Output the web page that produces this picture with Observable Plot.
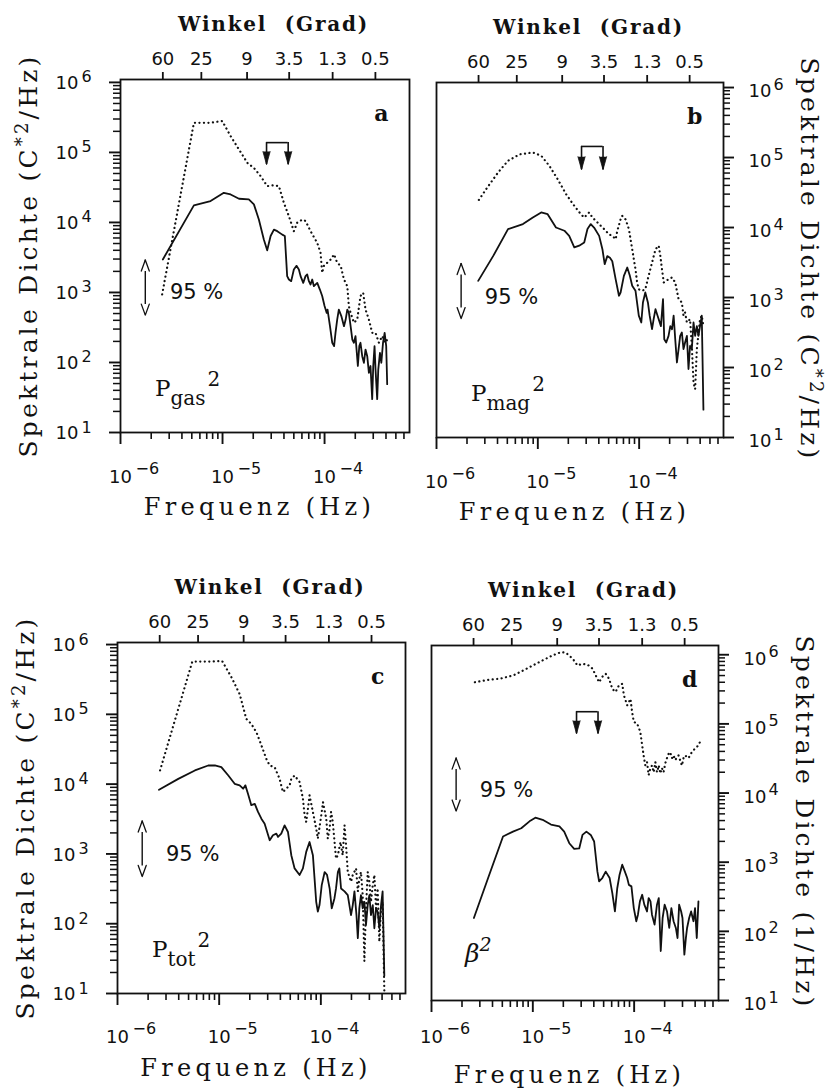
<!DOCTYPE html>
<html><head><meta charset="utf-8">
<script src="https://cdn.jsdelivr.net/npm/d3@7"></script>
<script src="https://cdn.jsdelivr.net/npm/@observablehq/plot@0.6"></script>
<style>
body{margin:0;background:#fff;}
#wrap{position:relative;width:832px;height:1088px;background:#fff;overflow:hidden}
#wrap > svg{position:absolute}
</style></head><body><div id="wrap"></div>
<script>
// ---------- tick values and labels ----------
const angleTickFreq = [2.6e-6, 6.2e-6, 1.74e-5, 4.5e-5, 1.2e-4, 3.15e-4]; // Hz
const angleTickLabels = ["60", "25", "9", "3.5", "1.3", "0.5"];            // Grad
const yTickValues = [1e1, 1e2, 1e3, 1e4, 1e5, 1e6];
const yTickExp = ["1", "2", "3", "4", "5", "6"];
const xTickValues = [1e-6, 1e-5, 1e-4];
const xTickExp = ["\u22126", "\u22125", "\u22124"];

// ---------- spectra: [frequency (µHz), spectral density] ----------
const aDotted = [[2.56,940],[5.24,2.65e5],[7.63,2.65e5],[9.93,2.81e5],[12.0,1.71e5],[14.5,1.10e5],[17.5,7.1e4],[20.3,6.0e4],[23.6,4.6e4],[27.4,3.3e4],[31.9,3.4e4],[35.7,3.3e4],[39.9,1.91e4],[44.7,1.23e4],[50.0,7.5e3],[53.9,9.9e3],[60.4,1.10e4],[65.1,1.05e4],[72.9,7.5e3],[84.8,5.1e3],[91.3,3.7e3],[94.8,1.91e3],[98.5,2.4e3],[106,2.65e3],[115,2.96e3],[124,3.5e3],[133,2.65e3],[144,2.4e3],[155,1.53e3],[167,1.23e3],[173,640],[180,510],[194,370],[209,410],[225,890],[239,990],[252,570],[272,410],[293,265],[316,265],[341,191],[367,238],[396,191],[411,213]];
const aSolid = [[2.60,2.96e3],[5.24,1.75e4],[7.63,2.02e4],[10.3,2.65e4],[12.0,2.51e4],[14.5,2.18e4],[18.1,2.13e4],[20.3,1.81e4],[22.7,1.10e4],[25.4,5.7e3],[27.4,4.0e3],[29.6,6.4e3],[31.9,7.9e3],[34.4,7.5e3],[38.5,6.7e3],[40.8,6.4e3],[43.0,1.71e3],[44.7,1.53e3],[47.1,1.45e3],[50.0,2.13e3],[53.1,2.4e3],[56.0,2.13e3],[58.2,1.71e3],[61.8,1.37e3],[65.1,1.71e3],[67.6,1.81e3],[70.2,1.45e3],[72.9,1.30e3],[75.7,1.53e3],[78.6,1.23e3],[84.8,1.37e3],[90.0,1.10e3],[94.8,890],[100,640],[105,510],[107,570],[113,330],[119,191],[124,171],[128,265],[133,410],[138,570],[146,460],[155,330],[161,410],[167,570],[173,510],[180,330],[187,213],[194,191],[201,238],[212,89],[219,171],[225,191],[234,123],[243,99],[252,153],[262,123],[272,71],[282,89],[293,30],[300,89],[309,171],[316,79],[328,30],[336,79],[349,137],[360,99],[374,191],[388,265],[402,171],[411,49]];

const bDotted = [[2.62,2.48e4],[3.24,3.9e4],[4.05,6.1e4],[5.08,9.0e4],[6.61,1.11e5],[8.93,1.18e5],[10.8,1.06e5],[13.0,7.6e4],[15.7,4.9e4],[19.0,3.0e4],[22.9,2.04e4],[26.6,1.55e4],[28.7,1.39e4],[32.1,1.64e4],[34.6,1.39e4],[38.8,1.18e4],[45.1,9.5e3],[50.4,8.0e3],[54.3,7.6e3],[58.6,6.8e3],[60.9,9.0e3],[65.6,1.31e4],[68.1,1.47e4],[73.4,1.31e4],[79.2,9.5e3],[85.4,4.9e3],[92.0,2.54e3],[95.5,1.64e3],[99.2,1.31e3],[107,1.25e3],[115,1.31e3],[124,2.04e3],[134,3.16e3],[145,4.9e3],[156,5.5e3],[162,3.9e3],[168,2.54e3],[175,1.64e3],[185,1.73e3],[195,1.83e3],[211,1.93e3],[227,1.64e3],[245,950],[264,850],[274,550],[284,610],[296,440],[318,490],[331,204],[344,61],[357,49],[371,183],[399,490],[415,550],[431,390]];
const bSolid = [[2.58,1.73e3],[3.62,3.9e3],[5.08,9.5e3],[7.13,1.12e4],[8.93,1.39e4],[10.8,1.64e4],[12.5,1.55e4],[15.1,1.00e4],[18.3,9.0e3],[20.4,7.6e3],[22.9,5.2e3],[25.6,5.5e3],[28.7,6.1e3],[30.9,9.5e3],[33.3,1.12e4],[35.9,1.00e4],[40.3,7.6e3],[43.4,4.9e3],[45.7,3.0e3],[48.5,3.9e3],[51.5,3.7e3],[54.3,3.3e3],[58.6,1.83e3],[63.2,1.06e3],[65.6,1.18e3],[70.7,2.04e3],[76.3,2.68e3],[81.0,2.04e3],[85.4,1.47e3],[92.0,1.25e3],[99.2,550],[105,440],[109,850],[115,1.18e3],[122,850],[127,550],[134,353],[139,490],[145,680],[152,550],[164,390],[172,950],[177,254],[185,228],[195,283],[203,390],[211,352],[219,550],[227,254],[236,118],[245,183],[254,283],[264,316],[274,183],[284,228],[296,283],[307,95],[318,204],[331,183],[344,440],[357,283],[371,390],[385,283],[399,390],[415,550],[431,25]];

const cDotted = [[2.62,1.57e4],[5.44,5.7e5],[7.80,5.7e5],[10.7,5.8e5],[13.2,3.4e5],[15.9,1.95e5],[18.5,8.6e4],[20.7,7.3e4],[23.3,5.5e4],[26.0,3.6e4],[29.1,2.30e4],[31.4,1.85e4],[35.1,1.75e4],[39.3,1.19e4],[42.4,7.7e3],[45.7,8.6e3],[49.3,9.6e3],[51.2,1.19e4],[55.2,1.33e4],[61.8,1.07e4],[66.6,6.2e3],[69.2,3.6e3],[71.8,2.87e3],[74.6,4.4e3],[77.4,6.9e3],[83.5,4.0e3],[90.0,2.30e3],[93.4,1.66e3],[101,3.6e3],[105,5.5e3],[113,3.2e3],[117,1.66e3],[122,2.30e3],[126,4.0e3],[131,2.87e3],[141,860],[147,960],[156,1.48e3],[164,960],[171,2.57e3],[177,1.33e3],[184,550],[198,400],[206,500],[222,620],[231,290],[239,440],[248,550],[258,257],[268,29],[278,166],[289,550],[300,400],[311,206],[324,356],[336,500],[349,166],[362,320],[376,55],[391,166],[405,206],[421,10.7]];
const cSolid = [[2.56,8.3e3],[3.96,1.19e4],[5.77,1.57e4],[7.80,1.85e4],[9.07,1.85e4],[10.5,1.75e4],[12.3,1.33e4],[14.2,1.01e4],[15.9,9.6e3],[17.2,8.6e3],[18.1,9.6e3],[19.2,7.3e3],[20.7,5.0e3],[22.4,5.2e3],[24.1,4.0e3],[26.0,3.2e3],[28.0,2.71e3],[31.4,1.57e3],[33.8,1.85e3],[36.5,1.95e3],[37.9,1.75e3],[40.8,1.95e3],[44.0,2.57e3],[47.5,2.06e3],[51.2,960],[55.2,620],[61.8,500],[66.6,620],[71.8,1.07e3],[77.4,1.48e3],[83.5,960],[90.0,206],[93.4,149],[97.0,185],[102,357],[109,550],[115,500],[122,320],[128,166],[136,230],[141,320],[147,550],[152,620],[158,320],[171,290],[184,257],[198,133],[206,185],[214,290],[224,133],[231,62],[239,166],[248,257],[258,166],[268,206],[278,96],[289,185],[300,257],[311,133],[324,185],[336,86],[349,166],[362,149],[376,86],[391,185],[405,290],[421,18]];

const dDotted = [[2.68,4.0e5],[3.49,4.3e5],[4.71,4.5e5],[6.37,5.0e5],[7.98,5.9e5],[10.0,7.0e5],[12.5,8.3e5],[15.7,9.8e5],[19.0,1.09e6],[21.2,1.07e6],[24.7,8.8e5],[27.6,7.0e5],[30.9,7.4e5],[34.6,7.2e5],[38.8,6.3e5],[41.8,5.0e5],[45.1,4.0e5],[48.5,4.8e5],[52.4,5.3e5],[56.5,4.5e5],[60.9,3.2e5],[65.6,2.9e5],[70.7,3.6e5],[76.3,3.8e5],[79.2,2.6e5],[85.4,1.86e5],[92.0,2.3e5],[95.5,1.49e5],[99.2,1.07e5],[107,1.01e5],[115,7.7e4],[120,4.9e4],[124,3.5e4],[129,2.5e4],[134,2.8e4],[139,1.82e4],[145,2.3e4],[150,2.5e4],[156,2.0e4],[162,2.8e4],[168,2.0e4],[175,2.5e4],[181,1.92e4],[188,2.3e4],[195,2.0e4],[203,2.7e4],[211,3.2e4],[219,3.7e4],[227,3.9e4],[236,3.2e4],[245,3.5e4],[254,3.0e4],[274,3.5e4],[284,3.0e4],[296,2.5e4],[307,3.2e4],[318,3.5e4],[344,3.2e4],[371,3.9e4],[399,4.4e4],[431,4.9e4],[447,5.5e4]];
const dSolid = [[2.62,156],[3.62,590],[5.08,2.35e3],[6.37,2.77e3],[7.69,3.1e3],[9.27,3.9e3],[10.6,4.4e3],[12.5,4.1e3],[15.1,3.5e3],[18.3,3.3e3],[20.4,2.77e3],[22.9,1.88e3],[25.6,1.56e3],[28.7,1.58e3],[30.9,2.48e3],[33.8,2.77e3],[37.3,2.48e3],[40.3,1.99e3],[43.4,730],[45.1,530],[48.5,590],[52.4,730],[57.3,590],[60.9,357],[64.6,194],[68.1,420],[71.8,660],[76.3,920],[81.0,730],[85.4,590],[88.7,470],[94,447],[99.2,217],[105,140],[109,174],[114,271],[120,338],[126,243],[134,194],[139,303],[145,271],[150,174],[159,125],[168,243],[175,303],[183,52],[191,156],[200,243],[211,194],[222,112],[233,217],[245,140],[258,112],[268,80],[278,243],[291,194],[300,156],[313,46],[324,80],[333,112],[349,156],[365,194],[385,140],[399,217],[415,80],[431,271]];

// ---------- annotations ----------
const bracketFreq = [2.7e-5, 4.4e-5];           // Hz, two arrows
const bracketTop = [1.38e5, 1.44e5, null, 1.5e5];
const bracketTip = [6.7e4, 6.7e4, null, 7.2e4];
const conf95Freq = 1.75e-6;
const conf95Top = [2.9e3, 3.06e3, 2.96e3, 3.2e4];
const conf95Bottom = [475, 500, 475, 5.5e3];
const label95Freq = [3.05e-6, 3.0e-6, 3.0e-6, 3.0e-6];
const label95Dens = [1.0e3, 1.0e3, 980, 1.1e4];
const panelLetters = ["a", "b", "c", "d"];
const quantityBase = ["P", "P", "P", "\u03b2"];
const quantitySub = ["gas", "mag", "tot", ""];
const yLabelUnits = ["C*2/Hz", "C*2/Hz", "C*2/Hz", "1/Hz"];

// ---------- layout ----------
const SERIF = "'DejaVu Serif', serif";
const SANS = "'DejaVu Sans', sans-serif";
const INK = "#111";
const panels = [
  {left: 0,   top: 0,   w: 416, h: 545, m: {l: 120, t: 79,  r: 7,   b: 113}, side: "left",  ymax: 1.10e6, solid: aSolid, dotted: aDotted, xdy: 50, xedy: 41},
  {left: 416, top: 0,   w: 416, h: 545, m: {l: 20,  t: 82,  r: 109, b: 108}, side: "right", ymax: 1.18e6, solid: bSolid, dotted: bDotted, xdy: 50, xedy: 41},
  {left: 0,   top: 545, w: 416, h: 543, m: {l: 117, t: 97,  r: 11,  b: 95},  side: "left",  ymax: 1.07e6, solid: cSolid, dotted: cDotted, xdy: 49, xedy: 40},
  {left: 416, top: 545, w: 416, h: 543, m: {l: 15,  t: 100, r: 114, b: 88},  side: "right", ymax: 1.36e6, solid: dSolid, dotted: dDotted, xdy: 42, xedy: 33}
];

const xDomain = [1e-6, 6.8e-4];
const xMinor = [];
for (const e of [-6, -5, -4]) for (let k = 2; k <= 9; k++) { const v = k * Math.pow(10, e); if (v < xDomain[1]) xMinor.push(v); }
const yMinor = [];
for (const e of [1, 2, 3, 4, 5]) for (let k = 2; k <= 9; k++) yMinor.push(k * Math.pow(10, e));

function rich(svg, x, y, rotate, parts, o) {
  const t = d3.select(svg).append("text")
    .attr("transform", `translate(${x},${y}) rotate(${rotate})`)
    .attr("text-anchor", o.anchor || "middle")
    .attr("font-family", o.family || SERIF)
    .attr("font-size", o.size)
    .attr("font-weight", o.weight || "normal")
    .attr("font-style", o.style || "normal")
    .attr("letter-spacing", o.ls || 0)
    .attr("fill", INK);
  for (const p of parts) {
    const s = t.append("tspan").text(p.t);
    if (p.dy) s.attr("dy", p.dy);
    if (p.dx) s.attr("dx", p.dx);
    if (p.size) s.attr("font-size", p.size);
  }
}

const wrap = document.getElementById("wrap");
panels.forEach((p, i) => {
  const solid = p.solid.map(([f, v]) => ({f: f * 1e-6, v}));
  const dotted = p.dotted.map(([f, v]) => ({f: f * 1e-6, v}));
  const right = p.side === "right";
  const ymin = 10, ymax = p.ymax;
  const yEdge = right ? xDomain[1] : xDomain[0];
  const yRows = yTickValues.map((v, j) => ({v, e: yTickExp[j]}));
  const xRows = xTickValues.map((f, j) => ({f, e: xTickExp[j]}));
  const angleRows = angleTickFreq.map((f, j) => ({f, label: angleTickLabels[j]}));
  const yTickOpts = (len, w) => right
    ? {y: d => d, x1: yEdge, x2: yEdge, insetRight: -len, stroke: INK, strokeWidth: w}
    : {y: d => d, x1: yEdge, x2: yEdge, insetLeft: -len, stroke: INK, strokeWidth: w};

  const marks = [
    // y ticks (outside), bottom ticks, top angle ticks
    Plot.ruleY(yMinor, yTickOpts(7, 1.5)),
    Plot.ruleY(yTickValues, yTickOpts(11, 1.9)),
    Plot.ruleX(xMinor, {x: d => d, y1: ymin, y2: ymin, insetBottom: -7, stroke: INK, strokeWidth: 1.6}),
    Plot.ruleX(xTickValues, {x: d => d, y1: ymin, y2: ymin, insetBottom: -12, stroke: INK, strokeWidth: 1.9}),
    Plot.ruleX(angleTickFreq, {x: d => d, y1: ymax, y2: ymax, insetTop: -7, stroke: INK, strokeWidth: 1.8}),
    Plot.frame({stroke: INK, strokeWidth: 1.8}),
    // angle labels on top
    Plot.text(angleRows, {x: "f", frameAnchor: "top", text: "label", textAnchor: "middle", lineAnchor: "bottom", dy: -15, fontSize: 18, fill: INK}),
    // y tick labels 10^k
    Plot.text(yRows, {y: "v", frameAnchor: p.side, text: () => "10", textAnchor: right ? "start" : "end", lineAnchor: "middle", dx: right ? 25 : -42, dy: right ? 4 : 1, fontSize: 18, fill: INK}),
    Plot.text(yRows, {y: "v", frameAnchor: p.side, text: "e", textAnchor: "start", lineAnchor: "bottom", dx: right ? 50 : -39, dy: right ? 2 : 0, fontSize: 16, fill: INK}),
    // x tick labels 10^k
    Plot.text(xRows, {x: "f", frameAnchor: "bottom", text: () => "10", textAnchor: "middle", lineAnchor: "bottom", dy: p.xdy, fontSize: 18, fill: INK}),
    Plot.text(xRows, {x: "f", frameAnchor: "bottom", text: "e", textAnchor: "start", lineAnchor: "bottom", dx: 15, dy: p.xedy, fontSize: 16, fill: INK}),
    // panel letter
    Plot.text([panelLetters[i]], {frameAnchor: "top-right", text: d => d, textAnchor: "end", lineAnchor: "bottom", dx: -21, dy: 41, fontSize: 22, fontWeight: "bold", fontFamily: SERIF, fill: INK}),
    // 95 % confidence arrow
    Plot.ruleX([conf95Freq], {x: d => d, y1: conf95Bottom[i], y2: conf95Top[i], stroke: INK, strokeWidth: 1.4}),
    Plot.vector([conf95Freq], {x: d => d, y: conf95Top[i], length: 11, rotate: 0, anchor: "end", shape: "spike", r: 4, fill: "white", stroke: INK, strokeWidth: 1.3}),
    Plot.vector([conf95Freq], {x: d => d, y: conf95Bottom[i], length: 11, rotate: 180, anchor: "end", shape: "spike", r: 4, fill: "white", stroke: INK, strokeWidth: 1.3}),
    Plot.text(["95 %"], {x: label95Freq[i], y: label95Dens[i], text: d => d, textAnchor: "start", lineAnchor: "middle", fontSize: 21, fontFamily: SANS, fill: INK}),
    // spectra
    Plot.line(dotted, {x: "f", y: "v", stroke: INK, strokeWidth: 2.2, strokeDasharray: "0.1 4.4", strokeLinecap: "round", strokeLinejoin: "round"}),
    Plot.line(solid, {x: "f", y: "v", stroke: INK, strokeWidth: 1.8, strokeLinejoin: "round"})
  ];
  if (bracketTop[i] != null) {
    marks.push(
      Plot.ruleX(bracketFreq, {x: d => d, y1: bracketTip[i], y2: bracketTop[i], stroke: INK, strokeWidth: 1.6}),
      Plot.ruleY([bracketTop[i]], {y: d => d, x1: bracketFreq[0], x2: bracketFreq[1], stroke: INK, strokeWidth: 1.6}),
      Plot.vector(bracketFreq, {x: d => d, y: bracketTip[i], length: 13, rotate: 180, anchor: "end", shape: "spike", r: 3.6, fill: INK, stroke: INK, strokeWidth: 0.8})
    );
  }

  const svg = Plot.plot({
    width: p.w, height: p.h,
    marginLeft: p.m.l, marginRight: p.m.r, marginTop: p.m.t, marginBottom: p.m.b,
    x: {type: "log", domain: xDomain, axis: null},
    y: {type: "log", domain: [ymin, ymax], axis: null},
    style: {fontFamily: SANS, fontSize: "18px", color: INK, background: "white"},
    marks
  });
  svg.style.left = p.left + "px";
  svg.style.top = p.top + "px";
  wrap.appendChild(svg);

  const L = p.m.l, T = p.m.t, R = p.w - p.m.r, B = p.h - p.m.b;
  const cx = (L + R) / 2, cy = (T + B) / 2;
  // top axis title
  rich(svg, cx + 9, T - 48, 0, [{t: "Winkel  (Grad)"}], {size: 20, weight: "bold", ls: 1.8});
  // bottom axis title
  rich(svg, cx - 5, B + 83, 0, [{t: "Frequenz (Hz)"}], {size: 24, ls: 4.3});
  // y axis title
  const unit = yLabelUnits[i];
  const yParts = unit.startsWith("C*2")
    ? [{t: "Spektrale Dichte (C"}, {t: "*2", dy: -9, size: 18}, {t: "/Hz)", dy: 9}]
    : [{t: "Spektrale Dichte (" + unit + ")"}];
  if (right) rich(svg, R + 78, cy, 90, yParts, {size: 25, ls: 3.2});
  else rich(svg, L - 83, cy, -90, yParts, {size: 25, ls: 3.2});
  // quantity label
  if (quantitySub[i]) {
    rich(svg, L + 35, B - 36, 0, [{t: quantityBase[i], size: 23}, {t: quantitySub[i], dy: 9, size: 20}, {t: "2", dy: -19, dx: 2, size: 20}], {anchor: "start", size: 23});
  } else {
    rich(svg, L + 34, B - 38, 0, [{t: quantityBase[i], size: 25}, {t: "2", dy: -11, size: 19}], {anchor: "start", size: 25, style: "italic"});
  }
});
</script></body></html>
